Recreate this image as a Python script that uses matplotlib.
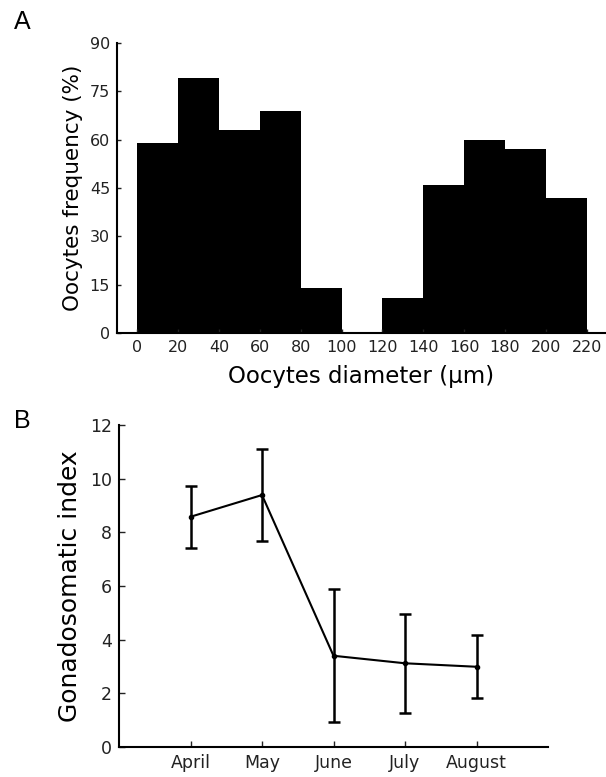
import matplotlib
matplotlib.use("Agg")
import matplotlib.pyplot as plt
import numpy as np

# Panel A data
bin_edges = [0, 20, 40, 60, 80, 100, 120, 140, 160, 180, 200, 220]
frequency = [59, 79, 63, 69, 14, 0, 11, 46, 60, 57, 42]
a_xticks = [0, 20, 40, 60, 80, 100, 120, 140, 160, 180, 200, 220]
a_yticks = [0, 15, 30, 45, 60, 75, 90]

# Panel B data
months = ["April", "May", "June", "July", "August"]
gsi_mean = [8.58, 9.39, 3.40, 3.12, 2.99]
gsi_err = [1.15, 1.73, 2.48, 1.85, 1.18]
b_yticks = [0, 2, 4, 6, 8, 10, 12]

plt.rcParams['font.family'] = ['DejaVu Sans']
W, H = 606, 777
fig = plt.figure(figsize=(W/100, H/100), dpi=100)

def rect(l, r, t, b):
    return [l/W, (H-b)/H, (r-l)/W, (b-t)/H]

# Panel A
axA = fig.add_axes(rect(117, 605, 43, 333))
lefts = bin_edges[:-1]
widths = np.diff(bin_edges)
axA.bar(lefts, frequency, width=widths, align='edge', color='black',
        edgecolor='black', linewidth=0)
axA.set_xlim(-10, 229)
axA.set_ylim(0, 90)
axA.set_xticks(a_xticks)
axA.set_yticks(a_yticks)
for s in ['top', 'right']:
    axA.spines[s].set_visible(False)
for s in ['left', 'bottom']:
    axA.spines[s].set_linewidth(1.5)
axA.tick_params(direction='in', length=3, width=1, labelsize=11.5,
                colors='#222222', pad=5)
axA.set_xlabel("Oocytes diameter (µm)", fontsize=16.5, labelpad=7)
axA.set_ylabel("Oocytes frequency (%)", fontsize=15.5, labelpad=5)
fig.text(14/W, 1 - 22/H, "A", fontsize=18, family='Liberation Sans',
         va='center', ha='left')

# Panel B
axB = fig.add_axes(rect(119, 548, 425, 747))
x = np.arange(1, len(months) + 1)
axB.errorbar(x, gsi_mean, yerr=gsi_err, color='black', linewidth=1.5,
             marker='o', markersize=3, elinewidth=1.8, capsize=4, capthick=1.8)
axB.set_xlim(0, 6)
axB.set_ylim(0, 12)
axB.set_xticks(x)
axB.set_xticklabels(months)
axB.set_yticks(b_yticks)
for s in ['top', 'right']:
    axB.spines[s].set_visible(False)
for s in ['left', 'bottom']:
    axB.spines[s].set_linewidth(1.5)
axB.tick_params(direction='in', length=4, width=1, labelsize=12.5,
                colors='#222222', pad=5)
axB.set_ylabel("Gonadosomatic index", fontsize=18, labelpad=6)
fig.text(14/W, 1 - 421/H, "B", fontsize=18, family='Liberation Sans',
         va='center', ha='left')

fig.savefig("out.png", dpi=100)
